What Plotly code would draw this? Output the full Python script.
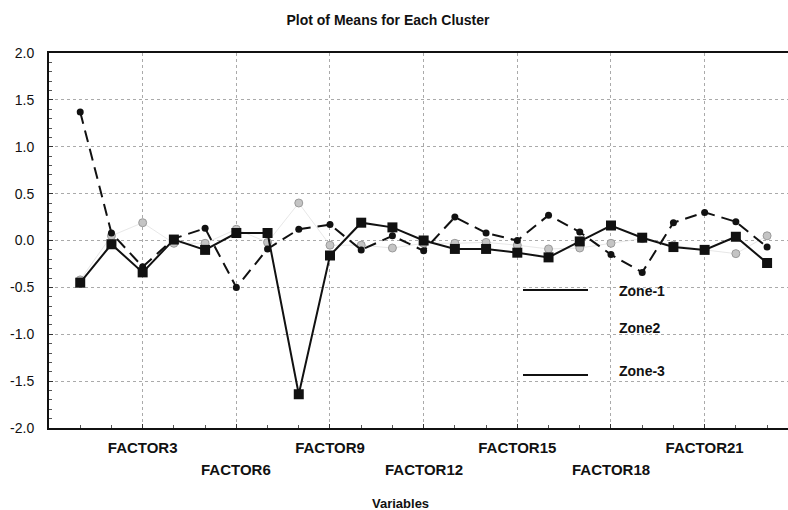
import plotly.graph_objects as go

factors = ["FACTOR1", "FACTOR2", "FACTOR3", "FACTOR4", "FACTOR5", "FACTOR6",
           "FACTOR7", "FACTOR8", "FACTOR9", "FACTOR10", "FACTOR11", "FACTOR12",
           "FACTOR13", "FACTOR14", "FACTOR15", "FACTOR16", "FACTOR17", "FACTOR18",
           "FACTOR19", "FACTOR20", "FACTOR21", "FACTOR22", "FACTOR23"]

zone1 = [1.37, 0.08, -0.28, 0.02, 0.13, -0.50, -0.09, 0.12, 0.17, -0.10, 0.05, -0.11,
         0.25, 0.08, 0.00, 0.27, 0.09, -0.15, -0.34, 0.19, 0.30, 0.20, -0.07]
zone2 = [-0.42, 0.05, 0.19, -0.03, -0.03, 0.12, -0.02, 0.40, -0.05, -0.05, -0.08, -0.03,
         -0.03, -0.02, -0.05, -0.09, -0.08, -0.03, 0.02, -0.05, -0.10, -0.14, 0.05]
zone3 = [-0.45, -0.04, -0.34, 0.01, -0.10, 0.08, 0.08, -1.64, -0.16, 0.19, 0.14, 0.00,
         -0.09, -0.09, -0.13, -0.18, -0.01, 0.16, 0.03, -0.07, -0.10, 0.04, -0.24]

series_names = ["Zone-1", "Zone2", "Zone-3"]
row1_labels = ["FACTOR3", "FACTOR9", "FACTOR15", "FACTOR21"]
row2_labels = ["FACTOR6", "FACTOR12", "FACTOR18"]
y_ticks = [-2.0, -1.5, -1.0, -0.5, 0.0, 0.5, 1.0, 1.5, 2.0]

xpos = list(range(1, len(factors) + 1))
pos_of = {f: i + 1 for i, f in enumerate(factors)}

W, H = 788, 510
ML, MR, MT, MB = 49, 0, 53, 82
PW, PH = W - ML - MR, H - MT - MB

fig = go.Figure()
fig.add_trace(go.Scatter(
    x=xpos, y=zone2, mode="lines+markers", name=series_names[1],
    line=dict(color="rgba(215,215,215,0.6)", width=1),
    marker=dict(symbol="circle", size=8, color="#c4c4c4", line=dict(color="#9a9a9a", width=1)),
))
fig.add_trace(go.Scatter(
    x=xpos, y=zone1, mode="lines+markers", name=series_names[0],
    line=dict(color="#111111", width=2, dash="12px,7px"),
    marker=dict(symbol="circle", size=7, color="#111111"),
))
fig.add_trace(go.Scatter(
    x=xpos, y=zone3, mode="lines+markers", name=series_names[2],
    line=dict(color="#111111", width=2),
    marker=dict(symbol="square", size=10, color="#111111"),
))

font_main = "Liberation Sans Narrow, Arial Narrow, Liberation Sans, Arial, sans-serif"
font_bold = "Liberation Sans, Arial, sans-serif"

ann = []
for lab in row2_labels:
    ann.append(dict(x=pos_of[lab], xref="x", y=-(469 - (H - MB)) / PH, yref="paper",
                    text="<b>%s</b>" % lab, showarrow=False, xanchor="center", yanchor="middle",
                    font=dict(family=font_bold, size=15, color="#111")))
ann.append(dict(x=(400 - ML) / PW, xref="paper", y=-(503 - (H - MB)) / PH, yref="paper",
                text="<b>Variables</b>", showarrow=False, xanchor="center", yanchor="middle",
                font=dict(family=font_bold, size=13, color="#111")))

# legend drawn manually
leg_y = [291, 328, 371]
line_y = [290, None, 375]
shapes = []
for i, name in enumerate(series_names):
    ann.append(dict(x=(617 - ML) / PW, xref="paper", y=1 - (leg_y[i] - MT) / PH, yref="paper",
                    text="<b>%s</b>" % name, showarrow=False, xanchor="left", yanchor="middle",
                    font=dict(family=font_bold, size=14, color="#111")))
    if line_y[i] is not None:
        shapes.append(dict(type="line", xref="paper", yref="paper",
                           x0=(523 - ML) / PW, x1=(588 - ML) / PW,
                           y0=1 - (line_y[i] - MT) / PH, y1=1 - (line_y[i] - MT) / PH,
                           line=dict(color="#111", width=2)))

fig.update_layout(
    width=W, height=H,
    margin=dict(l=ML, r=MR, t=MT, b=MB, autoexpand=False),
    paper_bgcolor="white", plot_bgcolor="white",
    showlegend=False,
    title=dict(text="<b>Plot of Means for Each Cluster</b>", x=388 / W, xanchor="center",
               y=1 - 20 / H, yanchor="middle", yref="container",
               font=dict(family=font_main, size=14, color="#111")),
    annotations=ann, shapes=shapes,
    xaxis=dict(
        range=[0, 23.67], tickmode="array",
        tickvals=[pos_of[l] for l in row1_labels + row2_labels],
        ticktext=["<b>%s</b>" % l for l in row1_labels] + [""] * len(row2_labels),
        ticks="inside", ticklen=4, tickcolor="#333",
        showgrid=True, gridcolor="#aaa", griddash="dot", gridwidth=1,
        showline=True, linecolor="#111", linewidth=2, mirror=True,
        zeroline=False, ticklabelstandoff=5,
        tickfont=dict(family=font_bold, size=15, color="#111"),
        minor=dict(dtick=1, tick0=0, ticks="inside", ticklen=3, tickcolor="#555", showgrid=False),
    ),
    yaxis=dict(
        range=[-2, 2], tickmode="array", tickvals=y_ticks,
        ticktext=["%.1f" % v for v in y_ticks],
        ticks="inside", ticklen=4, tickcolor="#333",
        showgrid=True, gridcolor="#aaa", griddash="dot", gridwidth=1,
        showline=True, linecolor="#111", linewidth=2,
        zeroline=False, ticklabelstandoff=10,
        tickfont=dict(family=font_main, size=14, color="#111"),
        minor=dict(dtick=0.1, ticks="inside", ticklen=3, tickcolor="#555", showgrid=False),
    ),
)

fig.write_html("out.html", config={"displayModeBar": False},
               post_script="document.body.style.margin='0';document.body.style.overflow='hidden';")
